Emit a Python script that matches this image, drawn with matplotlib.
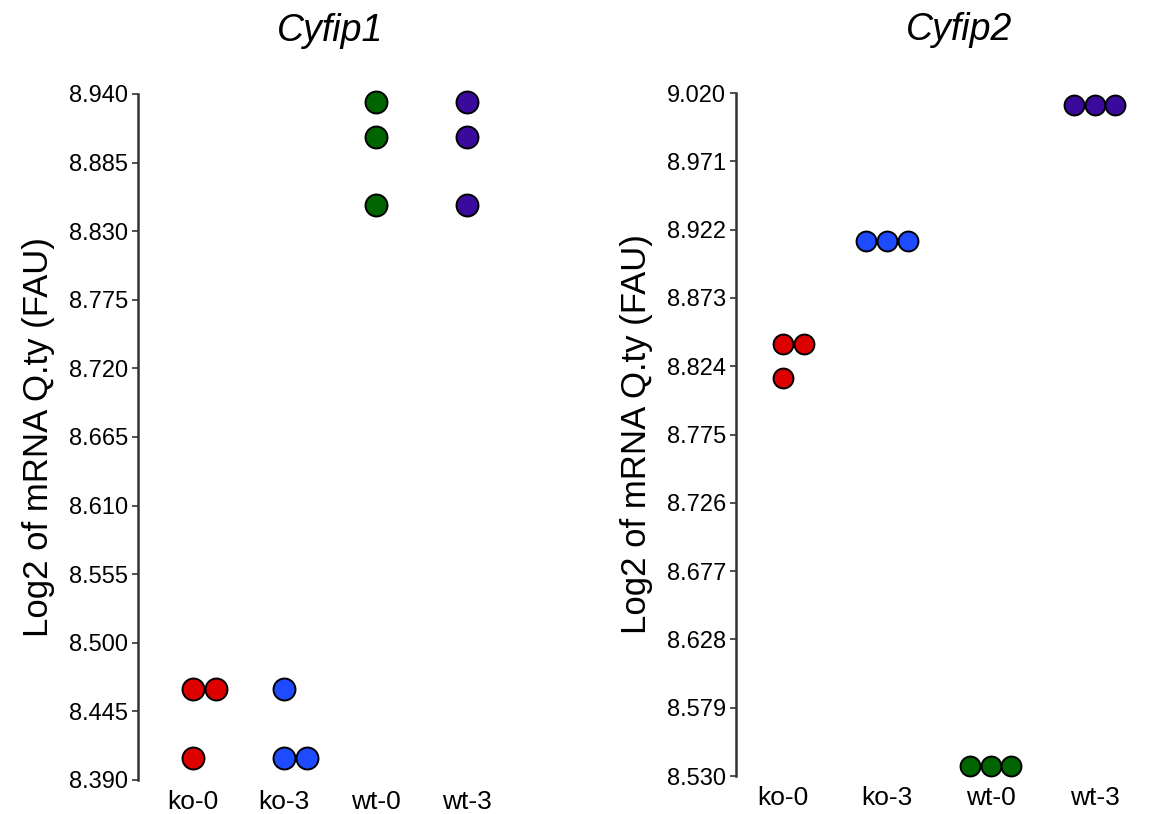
import numpy as np
import matplotlib
matplotlib.use('Agg')
import matplotlib.pyplot as plt

plt.rcParams['font.family'] = ['Liberation Sans', 'DejaVu Sans']

# Groups and colours
groups = ['ko-0', 'ko-3', 'wt-0', 'wt-3']
colors = ['#dd0000', '#1e4bff', '#006400', '#3a0a9c']

# Cyfip1 values (3 replicates per group)
cyfip1 = {
    'ko-0': [8.463, 8.463, 8.408],
    'ko-3': [8.463, 8.408, 8.408],
    'wt-0': [8.9335, 8.9055, 8.851],
    'wt-3': [8.9335, 8.9055, 8.851],
}
cyfip1_ticks = [8.390, 8.445, 8.500, 8.555, 8.610, 8.665, 8.720, 8.775, 8.830, 8.885, 8.940]

# Cyfip2 values
cyfip2 = {
    'ko-0': [8.840, 8.840, 8.8155],
    'ko-3': [8.9135, 8.9135, 8.9135],
    'wt-0': [8.537, 8.537, 8.537],
    'wt-3': [9.0115, 9.0115, 9.0115],
}
cyfip2_ticks = [8.530, 8.579, 8.628, 8.677, 8.726, 8.775, 8.824, 8.873, 8.922, 8.971, 9.020]


def dodge(vals, step):
    # equal values are spread sideways: centre, right, left
    order = [0, 1, -1, 2, -2]
    seen = {}
    offs = []
    for v in vals:
        k = seen.get(v, 0)
        offs.append(order[k] * step)
        seen[v] = k + 1
    return np.array(offs)


def panel(ax, data, ticks, title, size, step, xlim, title_x):
    for i, g in enumerate(groups):
        vals = data[g]
        xs = i + dodge(vals, step)
        ax.scatter(xs, vals, s=size, color=colors[i], edgecolor='black',
                   linewidth=1.4, zorder=3, clip_on=False)
    ax.set_xlim(*xlim)
    ax.set_ylim(ticks[0], ticks[-1])
    ax.set_yticks(ticks)
    ax.set_yticklabels(['%.3f' % t for t in ticks], fontsize=17)
    ax.set_xticks(range(len(groups)))
    ax.set_xticklabels(groups, fontsize=19)
    ax.tick_params(axis='x', length=0, pad=7)
    ax.tick_params(axis='y', length=4, width=1.2, color='#333333', pad=3)
    for s in ['top', 'right', 'bottom']:
        ax.spines[s].set_visible(False)
    ax.spines['left'].set_color('#333333')
    ax.spines['left'].set_linewidth(1.8)
    ax.set_ylabel('Log2 of mRNA Q.ty (FAU)', fontsize=25, labelpad=10)
    ax.set_title(title, fontsize=27, style='italic', x=title_x, pad=38)


fig = plt.figure(figsize=(11.57, 8.14), dpi=100)
W, H = 1157, 814
ax1 = fig.add_axes([138 / W, 1 - 780 / H, (522 - 138) / W, (780 - 94) / H])
ax2 = fig.add_axes([736 / W, 1 - 776 / H, (1157 - 736) / W, (776 - 93) / H])

panel(ax1, cyfip1, cyfip1_ticks, 'Cyfip1', 250, 0.25, (-0.6, 3.6), 0.5)
panel(ax2, cyfip2, cyfip2_ticks, 'Cyfip2', 205, 0.2, (-0.45, 3.6), 0.53)

fig.savefig('out.png', dpi=100)
